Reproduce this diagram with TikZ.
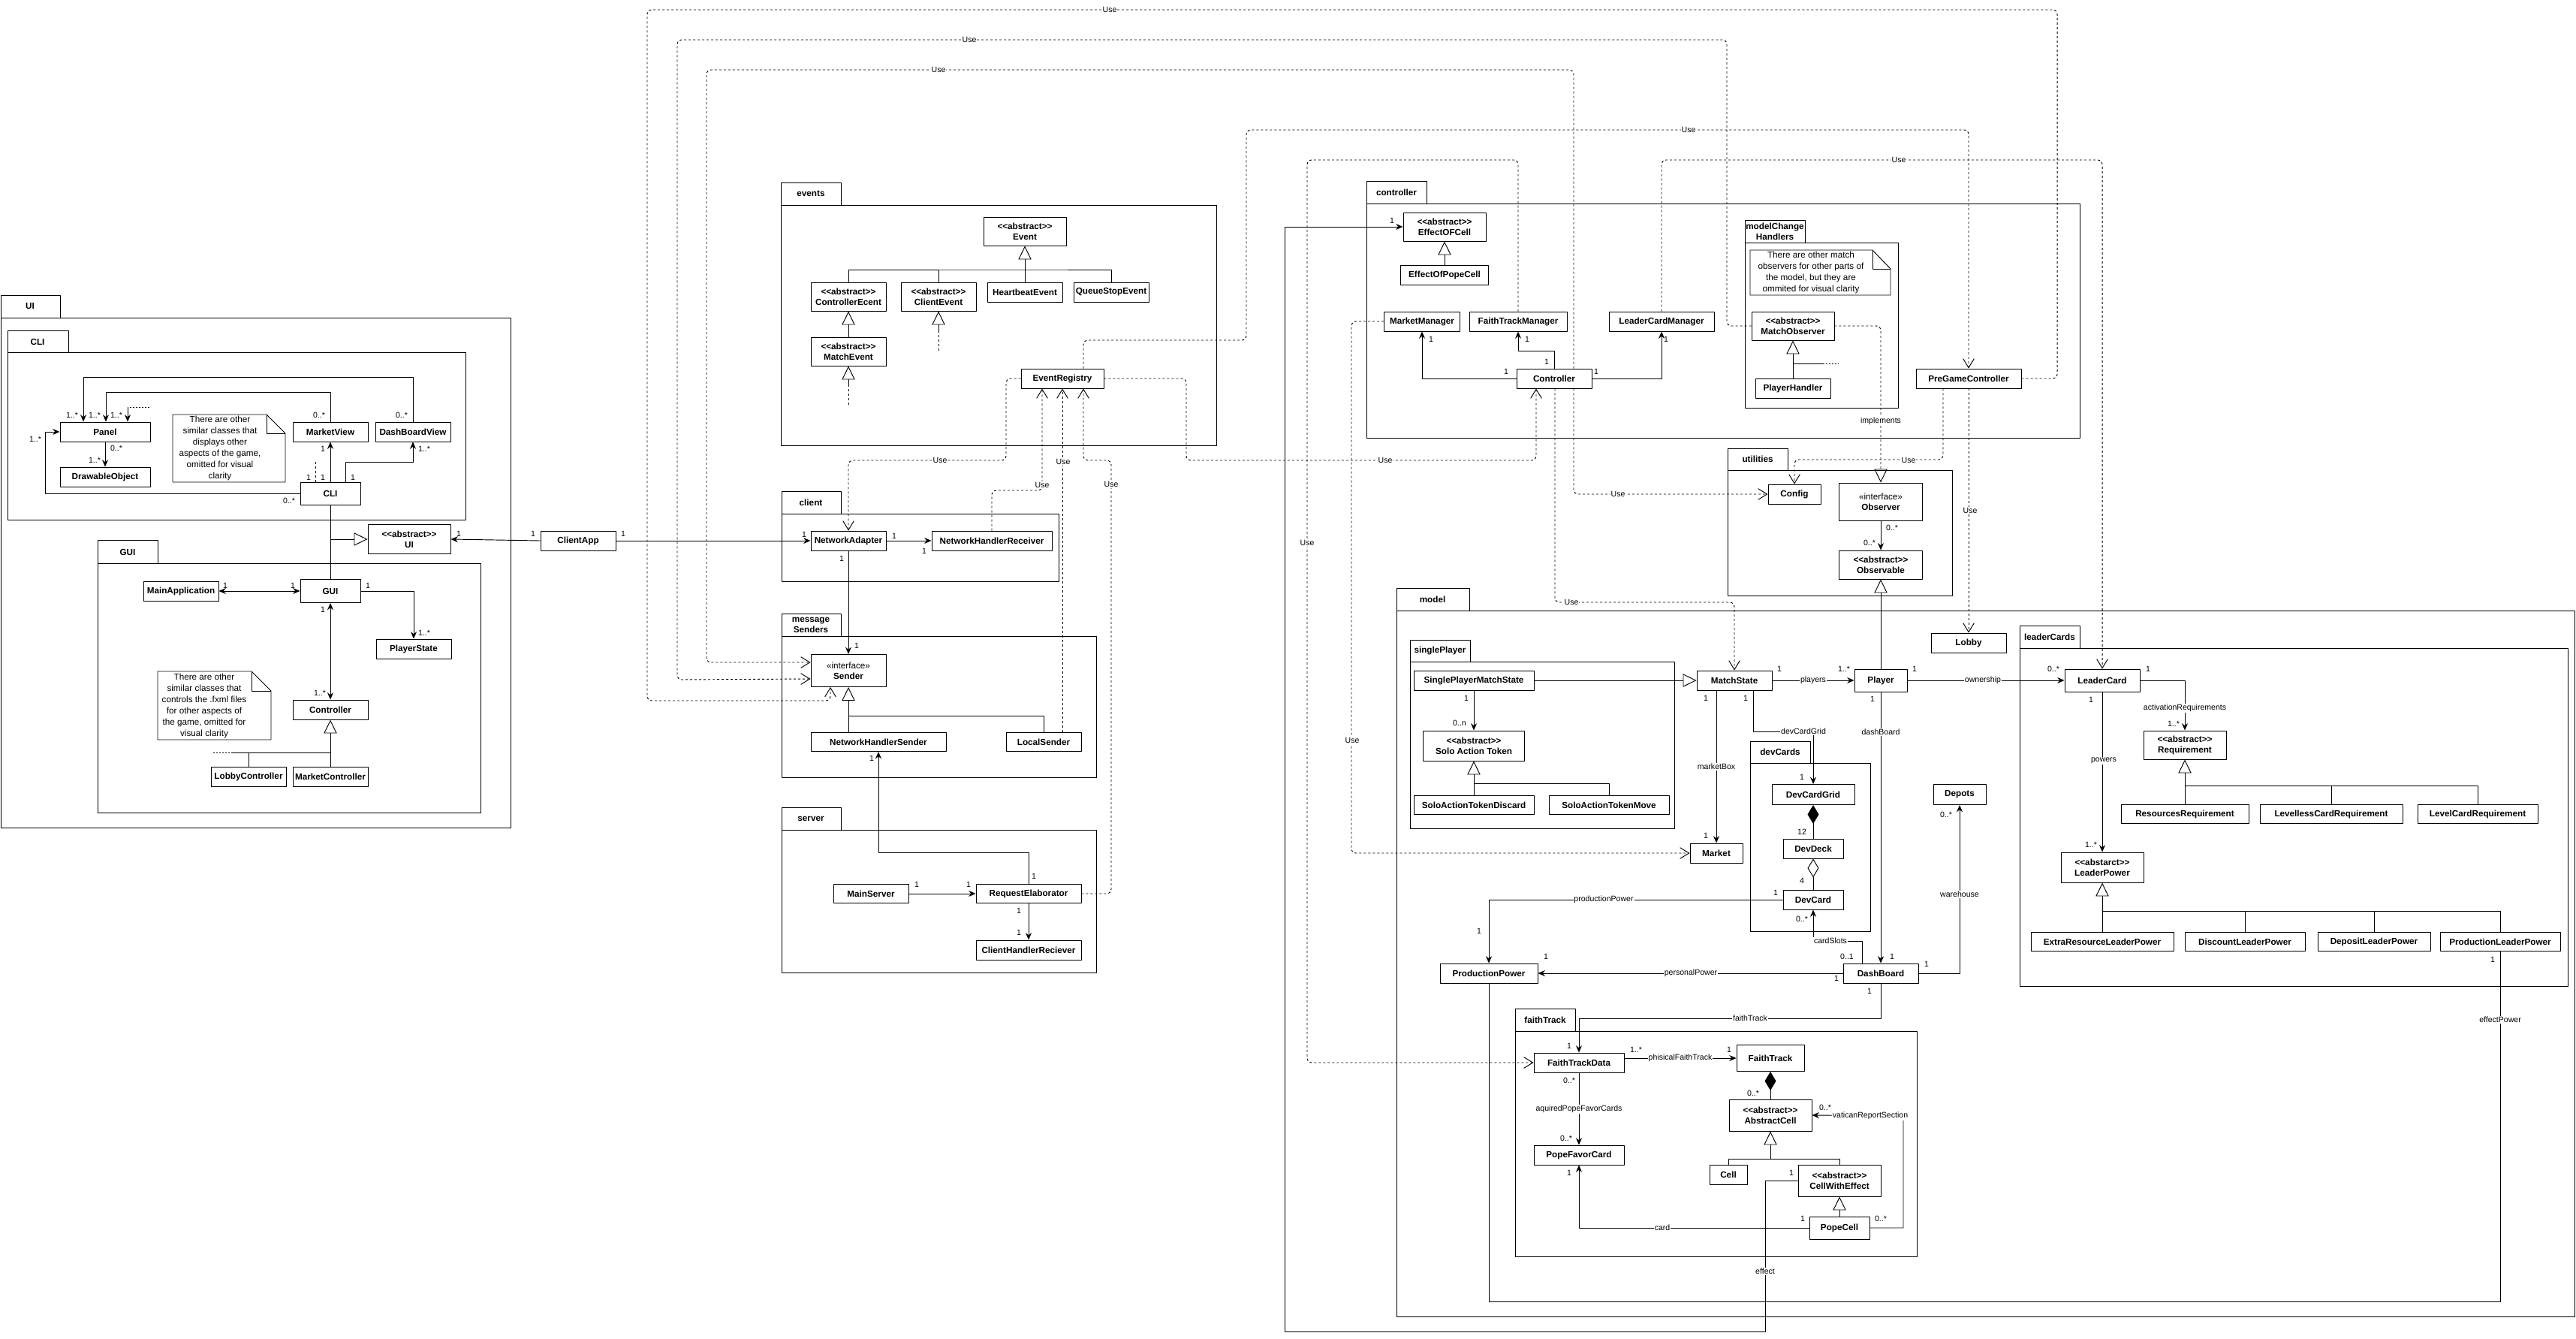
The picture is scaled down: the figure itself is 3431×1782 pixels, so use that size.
\documentclass[tikz,border=0pt]{standalone}
\usepackage{fontspec}
\setmainfont{Liberation Sans}
\usetikzlibrary{arrows.meta,calc}
\def\pu{0.03cm}
\tikzset{
  cbox/.style 2 args={draw,fill=white,line width=0.8pt,align=center,inner sep=1pt,
    minimum width=#1*\pu,minimum height=#2*\pu,font=\fontsize{10}{12}\selectfont\bfseries},
  pkg/.style={draw,line width=0.8pt},
  pkgname/.style={font=\fontsize{10}{12}\selectfont\bfseries,align=center},
  notebox/.style={draw,fill=white,line width=0.8pt},
  notetext/.style={font=\fontsize{10}{12.8}\selectfont,align=center},
  mult/.style={font=\fontsize{9}{10}\selectfont,inner sep=0.5pt},
  lbl/.style={font=\fontsize{9}{10}\selectfont,fill=white,inner sep=0.8pt},
  conn/.style={line width=0.8pt},
  assoc/.style={conn,-{Stealth[length=2.8mm,width=2.4mm]}},
  biassoc/.style={conn,{Stealth[length=2.8mm,width=2.4mm]}-{Stealth[length=2.8mm,width=2.4mm]}},
  inherit/.style={conn,-{Triangle[open,length=5.4mm,width=5.2mm]}},
  usedep/.style={conn,dash pattern=on 0.9mm off 0.9mm,rounded corners=0.18cm,
    -{Straight Barb[length=3.6mm,width=4.4mm]}},
  implem/.style={conn,dash pattern=on 0.9mm off 0.9mm,rounded corners=0.18cm,
    -{Triangle[open,length=5.4mm,width=5.2mm]}},
  compo/.style={conn,-{Diamond[length=7.5mm,width=4.5mm]}},
  aggr/.style={conn,-{Diamond[open,length=7.5mm,width=4.5mm]}},
  dashline/.style={conn,dash pattern=on 0.9mm off 0.9mm},
  dotline/.style={conn,dash pattern=on 0.6mm off 0.6mm}
}
\begin{document}
\begin{tikzpicture}[x=\pu,y=-\pu,line join=round]
\fill[white] (0,0) rectangle (3431,1782);
\useasboundingbox (0,0) rectangle (3431,1782);
% packages
\draw[pkg] (1,393) rectangle (80,423) (1,423) rectangle (680,1102);
\node[pkgname] at (40,408) {UI};
\draw[pkg] (10,440) rectangle (91,469) (10,469) rectangle (620,692);
\node[pkgname] at (50,455) {CLI};
\draw[pkg] (130,719) rectangle (210,750) (130,750) rectangle (640,1082);
\node[pkgname] at (170,735) {GUI};
\draw[pkg] (1040,243) rectangle (1120,273) (1040,273) rectangle (1620,593);
\node[pkgname] at (1080,258) {events};
\draw[pkg] (1041,654) rectangle (1120,684) (1041,684) rectangle (1410,774);
\node[pkgname] at (1080,669) {client};
\draw[pkg] (1041,817) rectangle (1120,847) (1041,847) rectangle (1460,1035);
\node[pkgname] at (1080,832) {message\\Senders};
\draw[pkg] (1041,1075) rectangle (1120,1105) (1041,1105) rectangle (1460,1295);
\node[pkgname] at (1080,1090) {server};
\draw[pkg] (1820,241) rectangle (1900,271) (1820,271) rectangle (2770,583);
\node[pkgname] at (1860,256) {controller};
\draw[pkg] (2324,293) rectangle (2404,323) (2324,323) rectangle (2528,543);
\node[pkgname] at (2364,308) {modelChange\\Handlers};
\draw[pkg] (2301,597) rectangle (2381,626) (2301,626) rectangle (2600,793);
\node[pkgname] at (2341,611) {utilities};
\draw[pkg] (1860,783) rectangle (1957,813) (1860,813) rectangle (3429,1753);
\node[pkgname] at (1908,798) {model};
\draw[pkg] (1878,852) rectangle (1958,881) (1878,881) rectangle (2230,1103);
\node[pkgname] at (1918,866) {singlePlayer};
\draw[pkg] (2331,987) rectangle (2411,1016) (2331,1016) rectangle (2491,1240);
\node[pkgname] at (2371,1001) {devCards};
\draw[pkg] (2690,833) rectangle (2770,863) (2690,863) rectangle (3420,1313);
\node[pkgname] at (2730,848) {leaderCards};
\draw[pkg] (2018,1343) rectangle (2098,1373) (2018,1373) rectangle (2553,1673);
\node[pkgname] at (2058,1358) {faithTrack};
% notes
\draw[notebox] (230,552) -- (355,552) -- (380,577) -- (380,642) -- (230,642) -- cycle;
\draw[conn] (355,552) -- (355,577) -- (380,577);
\node[notetext] (clinote) at (293,597) {There are other\\similar classes that\\displays other\\aspects of the game,\\omitted for visual\\clarity};
\draw[notebox] (210,894) -- (335,894) -- (361,920) -- (361,985) -- (210,985) -- cycle;
\draw[conn] (335,894) -- (335,920) -- (361,920);
\node[notetext] (guinote) at (272,940) {There are other\\similar classes that\\controls the .fxml files\\for other aspects of\\the game, omitted for\\visual clarity};
\draw[notebox] (2331,333) -- (2494,333) -- (2518,358) -- (2518,393) -- (2331,393) -- cycle;
\draw[conn] (2494,333) -- (2494,358) -- (2518,358);
\node[notetext] (mchnote) at (2412,363) {There are other match\\observers for other parts of\\the model, but they are\\ommited for visual clarity};
% UI classes
\node[cbox={120}{26}] (panel) at (140,575) {Panel};
\node[cbox={120}{26}] (drawobj) at (140,635) {DrawableObject};
\node[cbox={100}{26}] (marketview) at (440,575) {MarketView};
\node[cbox={100}{26}] (dashview) at (550,575) {DashBoardView};
\node[cbox={80}{30}] (cli) at (440,657) {CLI};
\node[cbox={110}{39}] (uiabs) at (545,718) {{<}{<}abstract{>}{>}\\UI};
\node[cbox={100}{26}] (clientapp) at (770,720) {ClientApp};
\node[cbox={100}{26}] (mainapp) at (241,787) {MainApplication};
\node[cbox={80}{31}] (gui) at (440,787) {GUI};
\node[cbox={100}{26}] (playerstate) at (551,864) {PlayerState};
\node[cbox={100}{26}] (guictrl) at (440,945) {Controller};
\node[cbox={100}{26}] (lobbyctrl) at (331,1034) {LobbyController};
\node[cbox={100}{26}] (marketctrl) at (440,1034) {MarketController};
% events classes
\node[cbox={110}{38}] (event) at (1365,308) {{<}{<}abstract{>}{>}\\Event};
\node[cbox={100}{38}] (ctrlevent) at (1130,395) {{<}{<}abstract{>}{>}\\ControllerEcent};
\node[cbox={100}{38}] (clientevent) at (1250,395) {{<}{<}abstract{>}{>}\\ClientEvent};
\node[cbox={100}{26}] (heartbeat) at (1365,389) {HeartbeatEvent};
\node[cbox={100}{26}] (queuestop) at (1480,389) {QueueStopEvent};
\node[cbox={100}{38}] (matchevent) at (1130,468) {{<}{<}abstract{>}{>}\\MatchEvent};
\node[cbox={110}{26}] (eventreg) at (1415,504) {EventRegistry};
% client, senders, server
\node[cbox={100}{26}] (netadapter) at (1130,720) {NetworkAdapter};
\node[cbox={160}{26}] (nhreceiver) at (1321,720) {NetworkHandlerReceiver};
\node[cbox={100}{43}] (sender) at (1130,893) {{\mdseries «interface»}\\Sender};
\node[cbox={180}{25}] (nhsender) at (1170,988) {NetworkHandlerSender};
\node[cbox={100}{25}] (localsender) at (1390,988) {LocalSender};
\node[cbox={100}{25}] (mainserver) at (1160,1190) {MainServer};
\node[cbox={140}{25}] (reqelab) at (1370,1190) {RequestElaborator};
\node[cbox={140}{26}] (chreceiver) at (1370,1265) {ClientHandlerReciever};
% controller classes
\node[cbox={110}{38}] (effectcell) at (1924,302) {{<}{<}abstract{>}{>}\\EffectOFCell};
\node[cbox={117}{26}] (effectpope) at (1924,366) {EffectOfPopeCell};
\node[cbox={101}{26}] (marketmgr) at (1894,428) {MarketManager};
\node[cbox={130}{26}] (faithmgr) at (2022,428) {FaithTrackManager};
\node[cbox={140}{26}] (leadermgr) at (2213,428) {LeaderCardManager};
\node[cbox={100}{26}] (controller) at (2070,504) {Controller};
\node[cbox={110}{38}] (matchobs) at (2388,434) {{<}{<}abstract{>}{>}\\MatchObserver};
\node[cbox={100}{26}] (playerhandler) at (2388,517) {PlayerHandler};
\node[cbox={140}{26}] (pregame) at (2622,504) {PreGameController};
% utilities
\node[cbox={70}{26}] (config) at (2390,658) {Config};
\node[cbox={111}{50}] (observer) at (2505,668) {{\mdseries «interface»}\\Observer};
\node[cbox={111}{38}] (observable) at (2505,752) {{<}{<}abstract{>}{>}\\Observable};
\node[cbox={100}{26}] (lobby) at (2622,856) {Lobby};
% model classes
\node[cbox={160}{26}] (spms) at (1963,906) {SinglePlayerMatchState};
\node[cbox={135}{40}] (soloat) at (1963,993) {{<}{<}abstract{>}{>}\\Solo Action Token};
\node[cbox={160}{25}] (satdiscard) at (1963,1072) {SoloActionTokenDiscard};
\node[cbox={160}{25}] (satmove) at (2143,1072) {SoloActionTokenMove};
\node[cbox={100}{26}] (matchstate) at (2310,906) {MatchState};
\node[cbox={70}{30}] (player) at (2505,906) {Player};
\node[cbox={70}{26}] (market) at (2286,1136) {Market};
\node[cbox={110}{27}] (devcardgrid) at (2415,1058) {DevCardGrid};
\node[cbox={80}{26}] (devdeck) at (2415,1130) {DevDeck};
\node[cbox={80}{26}] (devcard) at (2415,1198) {DevCard};
\node[cbox={70}{27}] (depots) at (2610,1058) {Depots};
\node[cbox={100}{26}] (dashboard) at (2505,1296) {DashBoard};
\node[cbox={130}{26}] (prodpower) at (1983,1296) {ProductionPower};
% leader cards
\node[cbox={100}{30}] (leadercard) at (2800,906) {LeaderCard};
\node[cbox={110}{38}] (requirement) at (2910,992) {{<}{<}abstract{>}{>}\\Requirement};
\node[cbox={170}{25}] (resreq) at (2910,1084) {ResourcesRequirement};
\node[cbox={190}{25}] (levellessreq) at (3105,1084) {LevellessCardRequirement};
\node[cbox={160}{25}] (levelreq) at (3300,1084) {LevelCardRequirement};
\node[cbox={110}{40}] (leaderpower) at (2800,1155) {{<}{<}abstarct{>}{>}\\LeaderPower};
\node[cbox={190}{25}] (extrares) at (2800,1254) {ExtraResourceLeaderPower};
\node[cbox={160}{25}] (discount) at (2990,1254) {DiscountLeaderPower};
\node[cbox={150}{25}] (deposit) at (3162,1254) {DepositLeaderPower};
\node[cbox={160}{25}] (prodleader) at (3330,1254) {ProductionLeaderPower};
% faith track
\node[cbox={120}{26}] (ftdata) at (2103,1415) {FaithTrackData};
\node[cbox={90}{35}] (faithtrack) at (2358,1409) {FaithTrack};
\node[cbox={110}{42}] (abscell) at (2358,1485) {{<}{<}abstract{>}{>}\\AbstractCell};
\node[cbox={50}{26}] (cell) at (2302,1564) {Cell};
\node[cbox={110}{42}] (cellwe) at (2450,1572) {{<}{<}abstract{>}{>}\\CellWithEffect};
\node[cbox={80}{30}] (popecell) at (2450,1635) {PopeCell};
\node[cbox={120}{26}] (popefavor) at (2103,1538) {PopeFavorCard};
% UI connectors
\draw[assoc] (cli.west) -| (60,575) -- (panel.west);
\draw[assoc] (cli.north) -- (marketview.south);
\draw[assoc] ($(cli.north)+(20,0)$) |- (550,615) -- (dashview.south);
\draw[dashline] ($(cli.north)+(-20,0)$) -- (420,612);
\draw[assoc] (marketview.north) |- (141,522) -- ($(panel.north)+(1,0)$);
\draw[assoc] (dashview.north) |- (111,502) -- ($(panel.north)+(-29,0)$);
\draw[dotline] (199,542) -- (170,542);
\draw[assoc] (170,542) -- ($(panel.north)+(30,0)$);
\draw[assoc] (panel.south) -- (drawobj.north);
\coordinate (uij) at (440,718);
\draw[conn] (cli.south) -- (gui.north);
\draw[inherit] (uij) -- (uiabs.west);
\draw[assoc] (clientapp.west) -- (uiabs.east);
\draw[assoc] (clientapp.east) -- (netadapter.west);
\draw[biassoc] (mainapp.east) -- (gui.west);
\draw[assoc] (gui.east) -| (playerstate.north);
\draw[biassoc] (gui.south) -- (guictrl.north);
\coordinate (gcj) at (440,1002);
\draw[inherit] (gcj) -- (guictrl.south);
\draw[conn] (marketctrl.north) -- (gcj) -- (310,1002);
\draw[conn] (lobbyctrl.north) -- (331,1002);
\draw[dotline] (310,1002) -- (284,1002);
% events connectors
\coordinate (evj) at (1365,359);
\draw[inherit] (evj) -- (event.south);
\draw[conn] (ctrlevent.north) |- (evj) -| (queuestop.north);
\draw[conn] (clientevent.north) -- (1250,359);
\draw[conn] (heartbeat.north) -- (evj);
\draw[inherit] (matchevent.north) -- (ctrlevent.south);
\draw[inherit] (1130,512) -- (matchevent.south);
\draw[dashline] (1130,512) -- (1130,540);
\draw[inherit] (1250,440) -- (clientevent.south);
\draw[dashline] (1250,440) -- (1250,469);
\draw[usedep] (eventreg.west) -| (1340,613) -| (netadapter.north);
\draw[usedep] (nhreceiver.north) |- (1388,653) -- ($(eventreg.south)+(-27,0)$);
\draw[usedep] ($(localsender.north)+(25,0)$) -- (eventreg.south);
\draw[usedep] (reqelab.east) -| (1480,613) -| ($(eventreg.south)+(28,0)$);
\draw[usedep] ($(eventreg.north)+(28,0)$) |- (1660,453) |- (2622,173) -- (pregame.north);
\draw[usedep] (eventreg.east) -| (1580,613) -| ($(controller.south)+(-24,0)$);
% client, senders, server connectors
\draw[assoc] (netadapter.east) -- (nhreceiver.west);
\draw[assoc] (netadapter.south) -- (sender.north);
\coordinate (sdj) at (1130,953);
\draw[inherit] (sdj) -- (sender.south);
\draw[conn] ($(nhsender.north)+(-40,0)$) -- (sdj) -| (localsender.north);
\draw[assoc] (reqelab.north) |- (1170,1135) -- (nhsender.south);
\draw[assoc] (mainserver.east) -- (reqelab.west);
\draw[assoc] (reqelab.south) -- (chreceiver.north);
\draw[usedep] (pregame.east) -| (2740,13) -| (862,933) -| ($(sender.south)+(-24,0)$);
\draw[usedep] (matchobs.west) -| (2300,53) -| (902,905) -- ($(sender.west)+(0,11)$);
\draw[usedep] ($(controller.north)+(26,0)$) |- (941,93) |- ($(sender.west)+(0,-11)$);
% controller connectors
\draw[assoc] (controller.west) -| (marketmgr.south);
\draw[assoc] (controller.north) |- (2022,467) -- (faithmgr.south);
\draw[assoc] (controller.east) -| (leadermgr.south);
\draw[inherit] (effectpope.north) -- (effectcell.south);
\draw[inherit] (playerhandler.north) -- (matchobs.south);
\draw[conn] (2388,484) -- (2428,484);
\draw[dotline] (2428,484) -- (2449,484);
\draw[usedep] ($(controller.south)+(26,0)$) |- (config.west);
\draw[usedep] ($(controller.south)+(1,0)$) |- (2310,802) -- (matchstate.north);
\draw[usedep] (faithmgr.north) |- (1741,213) |- (ftdata.west);
\draw[usedep] (marketmgr.west) -| (1800,1136) -- (market.west);
\draw[usedep] (leadermgr.north) |- (2800,213) -- (leadercard.north);
\draw[implem] (matchobs.east) -| (observer.north);
\draw[usedep] ($(pregame.south)+(-34,0)$) |- (2390,612) -- (config.north);
\draw[usedep] (pregame.south) -- (lobby.north);
\draw[assoc] (cellwe.west) -| (2351,1773) -| (1711,302) -- (effectcell.west);
% utilities connectors
\draw[assoc] (observer.south) -- (observable.north);
\draw[inherit] (player.north) -- (observable.south);
% model connectors
\draw[inherit] (spms.east) -- (matchstate.west);
\draw[assoc] (spms.south) -- (soloat.north);
\coordinate (satj) at (1963,1043);
\draw[inherit] (satj) -- (soloat.south);
\draw[conn] (satdiscard.north) -- (satj) -| (satmove.north);
\draw[assoc] (matchstate.east) -- (player.west);
\draw[assoc] (player.east) -- (leadercard.west);
\draw[assoc] (player.south) -- (dashboard.north);
\draw[assoc] ($(matchstate.south)+(-24,0)$) -- (market.north);
\draw[assoc] ($(matchstate.south)+(25,0)$) |- (2415,974) -- (devcardgrid.north);
\draw[compo] (devdeck.north) -- (devcardgrid.south);
\draw[aggr] (devcard.north) -- (devdeck.south);
\draw[assoc] (devcard.west) -| (prodpower.north);
\draw[assoc] ($(dashboard.north)+(-25,0)$) |- (2415,1253) -- (devcard.south);
\draw[assoc] (dashboard.east) -| (depots.south);
\draw[assoc] (dashboard.west) -- (prodpower.east);
\draw[assoc] (dashboard.south) |- (2103,1356) -- (ftdata.north);
\draw[conn] (prodpower.south) -- (1983,1733) -| (prodleader.south);
% leader cards connectors
\draw[assoc] (leadercard.east) -| (requirement.north);
\draw[assoc] (leadercard.south) -- (leaderpower.north);
\coordinate (rqj) at (2910,1046);
\draw[inherit] (rqj) -- (requirement.south);
\draw[conn] (resreq.north) -- (rqj) -| (levelreq.north);
\draw[conn] (levellessreq.north) -- (3105,1046);
\coordinate (lpj) at (2800,1213);
\draw[inherit] (lpj) -- (leaderpower.south);
\draw[conn] (extrares.north) -- (lpj) -| (prodleader.north);
\draw[conn] (discount.north) -- (2990,1213);
\draw[conn] (deposit.north) -- (3162,1213);
% faith track connectors
\draw[assoc] ($(ftdata.east)+(0,-6)$) -- (faithtrack.west);
\draw[compo] (abscell.north) -- (faithtrack.south);
\coordinate (acj) at (2358,1543);
\draw[inherit] (acj) -- (abscell.south);
\draw[conn] (cell.north) |- (acj) -| (cellwe.north);
\draw[inherit] (popecell.north) -- (cellwe.south);
\draw[assoc] (popecell.west) -| (popefavor.south);
\draw[assoc] (popecell.east) -| (2535,1486) -- (abscell.east);
\draw[assoc] (ftdata.south) -- (popefavor.north);
% multiplicities
\foreach \mx/\my/\mt in {47/585/{1..*},385/667/{0..*},411/636/1,430/636/1,470/636/1,
  430/598/1,565/598/{1..*},425/553/{0..*},126/553/{1..*},535/553/{0..*},96/553/{1..*},
  155/553/{1..*},155/597/{0..*},126/613/{1..*},611/711/1,710/711/1,830/711/1,
  300/780/1,390/780/1,490/780/1,565/843/{1..*},430/812/1,426/923/{1..*},
  1071/712/1,1191/714/1,1231/734/1,1121/744/1,1141/860/1,1161/1010/1,1377/1167/1,
  1221/1178/1,1290/1178/1,1357/1213/1,1357/1242/1,
  1854/294/1,2006/495/1,1906/452/1,2060/482/1,2034/452/1,2126/495/1,2219/452/1,
  2520/703/{0..*},2490/723/{0..*},
  1953/930/1,1944/963/{0..n},2370/891/1,2456/891/{1..*},2550/891/1,2735/891/{0..*},
  2494/931/1,2520/1274/1,2272/930/1,2272/1113/1,2325/930/1,2400/1035/1,
  2400/1108/12,2400/1173/4,2365/1189/1,1970/1240/1,2400/1224/{0..*},2460/1274/{0..1},
  2592/1085/{0..*},2566/1284/1,2059/1274/1,2446/1303/1,2490/1320/1,2090/1393/1,
  3320/1278/1,2861/891/1,2895/964/{1..*},2785/932/1,2785/1125/{1..*},
  2179/1398/{1..*},2303/1398/1,2335/1456/{0..*},2431/1475/{0..*},2505/1623/{0..*},
  2401/1623/1,2090/1562/1,2090/1439/{0..*},2086/1516/{0..*},2386/1562/1}
  \node[mult] at (\mx,\my) {\mt};
% role names and dependency labels
\foreach \lx/\ly/\lt in {1252/613/Use,1388/646/Use,1416/615/Use,1480/645/Use,
  2249/173/Use,1845/613/Use,1478/13/Use,1291/53/Use,1250/93/Use,2155/658/Use,
  2093/802/Use,1741/723/Use,1801/986/Use,2529/213/Use,2542/613/Use,2624/680/Use,
  2505/561/implements,2415/906/players,2641/906/ownership,2505/975/dashBoard,
  2286/1021/marketBox,2402/974/devCardGrid,2136/1198/productionPower,
  2438/1253/cardSlots,2610/1191/warehouse,2252/1296/personalPower,
  2331/1356/faithTrack,3330/1358/effectPower,2910/943/activationRequirements,
  2802/1013/powers,2238/1409/phisicalFaithTrack,2491/1486/vaticanReportSection,
  2214/1635/card,2103/1477/aquiredPopeFavorCards,2351/1693/effect}
  \node[lbl] at (\lx,\ly) {\lt};
\end{tikzpicture}
\end{document}
